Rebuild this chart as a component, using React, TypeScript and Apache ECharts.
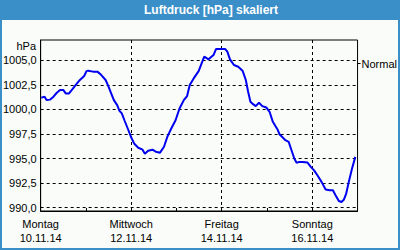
import { useEffect, useRef } from 'react';
import * as echarts from 'echarts';

// Hours since Monday 10.11.14 00:00
const hours = [
  0.35, 2.1, 3.15, 5.07, 6.82, 8.57, 10.32, 12.07, 13.29, 15.04, 16.44, 18.53, 20.81, 23.08,
  24.31, 25.18, 27.8, 30.08, 32.17, 34.45, 35.67, 37.07, 38.82, 40.57, 41.79,
  43.02, 44.42, 46.16, 47.91, 49.66, 51.76, 54.03, 55.25, 57.0, 59.28, 61.03, 63.3, 65.4,
  67.15, 69.25, 71.52, 73.62, 75.89, 77.64, 79.04, 81.13, 83.76,
  84.98, 86.73, 89.01, 91.63, 93.03, 95.13, 97.75, 98.97, 100.37, 102.47, 104.74, 107.02,
  108.77, 109.99, 111.21, 112.61, 114.01, 115.76, 117.51, 119.61, 121.36, 123.1, 125.73,
  126.6, 128.35, 129.75, 131.5, 132.72, 134.47, 135.7, 137.1, 138.84, 141.46, 143.21,
  144.96, 146.71, 148.98, 151.08, 153.18, 154.93, 156.33, 158.08, 159.48, 160.7, 161.93,
  163.33, 165.08, 166.82,
];
const pressure = [
  1001.19, 1001.3, 1000.95, 1001.0, 1001.3, 1001.7, 1001.97, 1001.97, 1001.63, 1001.63, 1001.97, 1002.48, 1003.0, 1003.4,
  1003.9, 1003.95, 1003.85, 1003.85, 1003.5, 1003.0, 1002.48, 1001.8, 1000.95, 1000.44, 999.86,
  999.6, 998.9, 998.06, 997.2, 996.5, 996.1, 995.9, 995.5, 995.8, 995.9, 995.7, 995.6, 996.2,
  997.2, 998.06, 998.9, 1000.1, 1000.95, 1001.36, 1002.48, 1003.16, 1003.9,
  1004.52, 1005.37, 1005.1, 1005.54, 1006.16, 1006.16, 1006.16, 1005.88, 1005.1, 1004.52, 1004.35, 1003.95,
  1003.0, 1001.8, 1000.78, 1000.54, 1000.34, 1000.68, 1000.34, 1000.2, 999.76, 998.74, 997.9,
  997.48, 997.14, 996.87, 996.7, 996.0, 995.0, 994.56, 994.66, 994.66, 994.6, 994.15,
  993.8, 993.3, 992.6, 991.84, 991.77, 991.77, 991.26, 990.68, 990.58, 990.8, 991.4,
  992.6, 993.98, 995.17,
];

const dayNames = ['Montag', '', 'Mittwoch', '', 'Freitag', '', 'Sonntag', ''];
const dayDates = ['10.11.14', '', '12.11.14', '', '14.11.14', '', '16.11.14', ''];
const gridDays = [48, 96, 144];
const yTickValues = [990, 992.5, 995, 997.5, 1000, 1002.5, 1005];
const normalPressure = 1004.67;
const yMin = 989.66;
const yMax = 1007.07;

const FONT = 'Liberation Sans';

export default function App() {
  const ref = useRef<HTMLDivElement>(null);
  useEffect(() => {
    if (!ref.current) return;
    const chart = echarts.init(ref.current, undefined, { renderer: 'svg' });
    const labelStyle = { color: '#000', fontSize: 11, fontFamily: FONT };
    chart.setOption({
      animation: false,
      backgroundColor: '#F9FCF9',
      textStyle: { fontFamily: FONT },
      grid: {
        left: 40, right: 40, top: 40, bottom: 39,
        show: true, borderColor: '#000', borderWidth: 1, backgroundColor: 'transparent',
      },
      xAxis: {
        type: 'value', min: 0, max: 168, interval: 24,
        axisLine: { show: true, lineStyle: { color: '#000', width: 1 } },
        axisTick: { show: true, inside: true, length: 3, lineStyle: { color: '#000' } },
        splitLine: { show: false },
        axisLabel: {
          ...labelStyle, lineHeight: 14, margin: 6,
          formatter: (v: number) => {
            const i = Math.round(v / 24);
            if (!dayNames[i]) return '';
            return dayNames[i] + '\n' + dayDates[i];
          },
        },
      },
      yAxis: [
        {
          type: 'value', min: yMin, max: yMax,
          axisLine: { show: true, lineStyle: { color: '#000', width: 1 } },
          axisTick: { show: false },
          splitLine: { show: false },
          axisLabel: {
            ...labelStyle, margin: 4, customValues: yTickValues,
            formatter: (v: number) => v.toFixed(1).replace('.', ','),
          },
        },
        {
          type: 'value', min: yMin, max: yMax, position: 'right',
          axisLine: { show: false },
          axisTick: { show: true, length: 3, customValues: [normalPressure], lineStyle: { color: '#000' } },
          splitLine: { show: false },
          axisLabel: {
            ...labelStyle, margin: 4, customValues: [normalPressure],
            padding: [4, 0, 0, 0],
            formatter: () => 'Normal',
          },
        },
      ],
      series: [
        {
          type: 'line',
          z: 3,
          data: hours.map((h, i) => [h, pressure[i]]),
          showSymbol: false,
          lineStyle: { color: '#0000F0', width: 2 },
          markLine: {
            silent: true, symbol: 'none', z: 1,
            label: { show: false },
            lineStyle: { color: '#000', type: [3, 3], width: 1 },
            emphasis: { disabled: true },
            data: [
              ...yTickValues.map((v) => ({ yAxis: v })),
              ...gridDays.map((d) => ({ xAxis: d })),
            ],
          },
        },
      ],
      graphic: [
        { type: 'rect', shape: { x: 0, y: 0, width: 400, height: 20 }, style: { fill: '#3B8FC8' }, z: 10 },
        {
          type: 'text', x: 211, y: 10, z: 11,
          style: { text: 'Luftdruck [hPa] skaliert', fill: '#fff', font: `bold 12px "${FONT}"`, align: 'center', verticalAlign: 'middle' },
        },
        {
          type: 'rect', shape: { x: 1, y: 1, width: 398, height: 248 },
          style: { fill: 'none', stroke: '#3B8FC8', lineWidth: 2 }, z: 10,
        },
        {
          type: 'text', x: 36, y: 46, z: 11,
          style: { text: 'hPa', fill: '#000', font: `11px "${FONT}"`, align: 'right', verticalAlign: 'middle' },
        },
      ],
    });
    return () => chart.dispose();
  }, []);
  return <div ref={ref} style={{ position: 'fixed', left: 0, top: 0, width: 400, height: 250 }} />;
}
